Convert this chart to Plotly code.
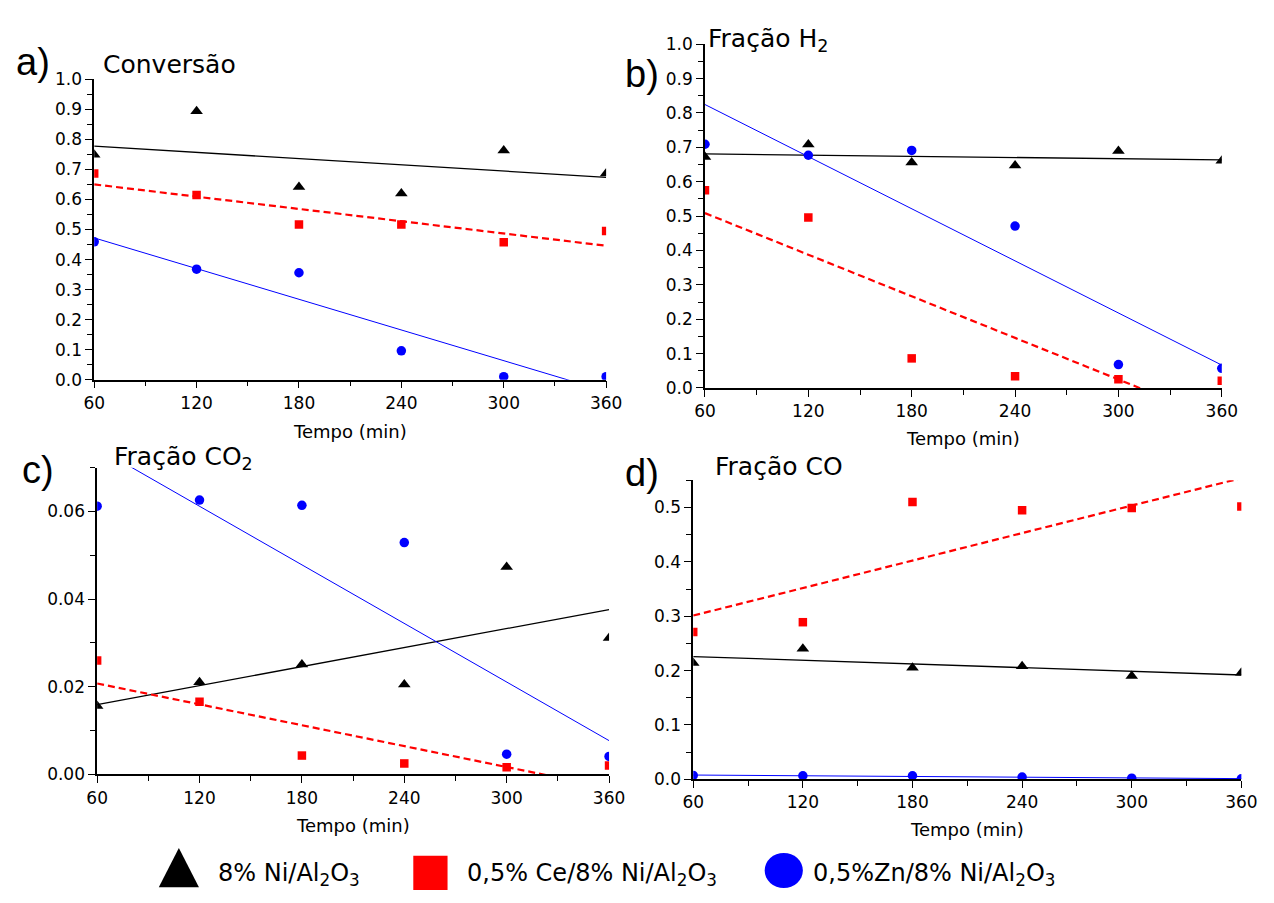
import numpy as np
import plotly.graph_objects as go

W, H = 1274, 903

# ---------------- data ----------------
tempo = [60, 120, 180, 240, 300, 360]

conv_ni = [0.749, 0.894, 0.642, 0.620, 0.763, 0.687]
conv_ce = [0.687, 0.615, 0.517, 0.517, 0.458, 0.495]
conv_zn = [0.459, 0.368, 0.356, 0.096, 0.010, 0.010]

h2_ni = [0.672, 0.708, 0.656, 0.647, 0.689, 0.661]
h2_ce = [0.575, 0.496, 0.086, 0.034, 0.025, 0.021]
h2_zn = [0.709, 0.677, 0.691, 0.471, 0.068, 0.057]

co2_ni = [0.0156, 0.0210, 0.0251, 0.0205, 0.0473, 0.0311]
co2_ce = [0.0260, 0.0166, 0.0043, 0.0025, 0.0016, 0.0020]
co2_zn = [0.0612, 0.0626, 0.0614, 0.0529, 0.0046, 0.0041]

co_ni = [0.214, 0.240, 0.205, 0.208, 0.190, 0.196]
co_ce = [0.271, 0.289, 0.510, 0.495, 0.499, 0.502]
co_zn = [0.007, 0.0065, 0.0065, 0.004, 0.002, 0.001]

series_names = ["8% Ni/Al<sub>2</sub>O<sub>3</sub>",
                "0,5% Ce/8% Ni/Al<sub>2</sub>O<sub>3</sub>",
                "0,5%Zn/8% Ni/Al<sub>2</sub>O<sub>3</sub>"]

panel_titles = ["Conversão", "Fração H<sub>2</sub>", "Fração CO<sub>2</sub>", "Fração CO"]
panel_letters = ["a)", "b)", "c)", "d)"]
x_title = "Tempo (min)"

panels = [
    dict(ni=conv_ni, ce=conv_ce, zn=conv_zn, yrange=[0, 1.0], dtick=0.1, minor=0.05, fmt=".1f"),
    dict(ni=h2_ni, ce=h2_ce, zn=h2_zn, yrange=[0, 1.0], dtick=0.1, minor=0.05, fmt=".1f"),
    dict(ni=co2_ni, ce=co2_ce, zn=co2_zn, yrange=[0, 0.07], dtick=0.02, minor=0.01, fmt=".2f"),
    dict(ni=co_ni, ce=co_ce, zn=co_zn, yrange=[0, 0.55], dtick=0.1, minor=0.05, fmt=".1f"),
]

# panel boxes in pixels (left, right, top, bottom)
boxes = [(85, 608, 71, 378), (709, 1237, 35, 386.5), (88, 611, 468, 781.7), (697, 1257, 481, 786.7)]

FONT = "DejaVu Sans"
LETTER_FONT = "Liberation Sans"
fig = go.Figure()

styles = {
    "ni": dict(color="#000000", symbol="triangle-up", size=11, lw=1.3, dash="solid"),
    "ce": dict(color="#ff0000", symbol="square", size=8.5, lw=2.2, dash="7px,4px"),
    "zn": dict(color="#0000ff", symbol="circle", size=9.5, lw=1.0, dash="solid"),
}

for i, (p, b) in enumerate(zip(panels, boxes)):
    n = i + 1
    xa = "x" if n == 1 else f"x{n}"
    ya = "y" if n == 1 else f"y{n}"
    for key in ["ni", "ce", "zn"]:
        st = styles[key]
        yv = p[key]
        # linear fit of the series
        k, c0 = np.polyfit(tempo, yv, 1)
        xf = [tempo[0], tempo[-1]]
        yf = [k * xf[0] + c0, k * xf[1] + c0]
        fig.add_trace(go.Scatter(x=xf, y=yf, mode="lines", xaxis=xa, yaxis=ya,
                                 line=dict(color=st["color"], width=st["lw"], dash=st["dash"]),
                                 showlegend=False, hoverinfo="skip"))
        fig.add_trace(go.Scatter(x=tempo, y=yv, mode="markers", xaxis=xa, yaxis=ya,
                                 marker=dict(color=st["color"], symbol=st["symbol"], size=st["size"],
                                             line=dict(width=0)),
                                 showlegend=False))
    l, r, t, bt = b
    xdom = [l / W, r / W]
    ydom = [1 - bt / H, 1 - t / H]
    axis_common = dict(showline=True, linecolor="black", linewidth=1.5, showgrid=False, zeroline=False,
                       ticks="outside", ticklen=7, tickwidth=1.3, tickcolor="black",
                       tickfont=dict(family=FONT, size=17, color="black"))
    xkey = "xaxis" if n == 1 else f"xaxis{n}"
    ykey = "yaxis" if n == 1 else f"yaxis{n}"
    fig.layout[xkey] = dict(domain=xdom, range=[60, 360], anchor=ya, tick0=60, dtick=60,
                            minor=dict(tick0=60, dtick=30, ticks="outside", ticklen=5, tickwidth=1.3,
                                       tickcolor="black", showgrid=False),
                            **axis_common)
    fig.layout[ykey] = dict(domain=ydom, range=p["yrange"], anchor=xa, tick0=0, dtick=p["dtick"],
                            tickformat=p["fmt"],
                            minor=dict(tick0=0, dtick=p["minor"], ticks="outside", ticklen=5, tickwidth=1.3,
                                       tickcolor="black", showgrid=False),
                            **axis_common)

annotations = []


def ann(text, x, y, size, xanchor="left", yanchor="middle", family=FONT):
    annotations.append(dict(text=text, x=x / W, y=1 - y / H, xref="paper", yref="paper",
                            xanchor=xanchor, yanchor=yanchor, showarrow=False, borderpad=0,
                            font=dict(family=family, size=size, color="black")))


# panel letters and titles
letter_pos = [(4, 53), (626, 65), (10, 470), (626, 473)]
title_pos = [(93, 56), (711, 31), (104, 458), (718, 467)]
for letter, (lx, ly) in zip(panel_letters, letter_pos):
    ann(letter, lx, ly, 38, family=LETTER_FONT)
for title, (tx, ty) in zip(panel_titles, title_pos):
    ann(title, tx, ty, 25)

# axis titles
for (l, r, t, bt), yy in zip(boxes, [431, 438, 834, 838]):
    ann(x_title, (l + r) / 2, yy, 18, xanchor="center")

# legend texts
ann(series_names[0], 210, 884, 24)
ann(series_names[1], 465, 884, 24)
ann(series_names[2], 818, 884, 24)

fig.update_layout(annotations=annotations)


# legend symbols
def px(x):
    return x / W


def py(y):
    return 1 - y / H


shapes = [
    dict(type="path", xref="paper", yref="paper",
         path=f"M {px(151)},{py(897)} L {px(192)},{py(897)} L {px(171.5)},{py(857)} Z",
         fillcolor="#000000", line=dict(width=0)),
    dict(type="rect", xref="paper", yref="paper", x0=px(411), x1=px(446), y0=py(900), y1=py(865),
         fillcolor="#ff0000", line=dict(width=0)),
    dict(type="circle", xref="paper", yref="paper", x0=px(770), x1=px(809), y0=py(898), y1=py(862),
         fillcolor="#0000ff", line=dict(width=0)),
]
fig.update_layout(shapes=shapes)

fig.update_layout(width=W, height=H, margin=dict(l=0, r=0, t=0, b=0),
                  paper_bgcolor="white", plot_bgcolor="white", showlegend=False,
                  font=dict(family=FONT, color="black"))

fig.write_html("out.html")
